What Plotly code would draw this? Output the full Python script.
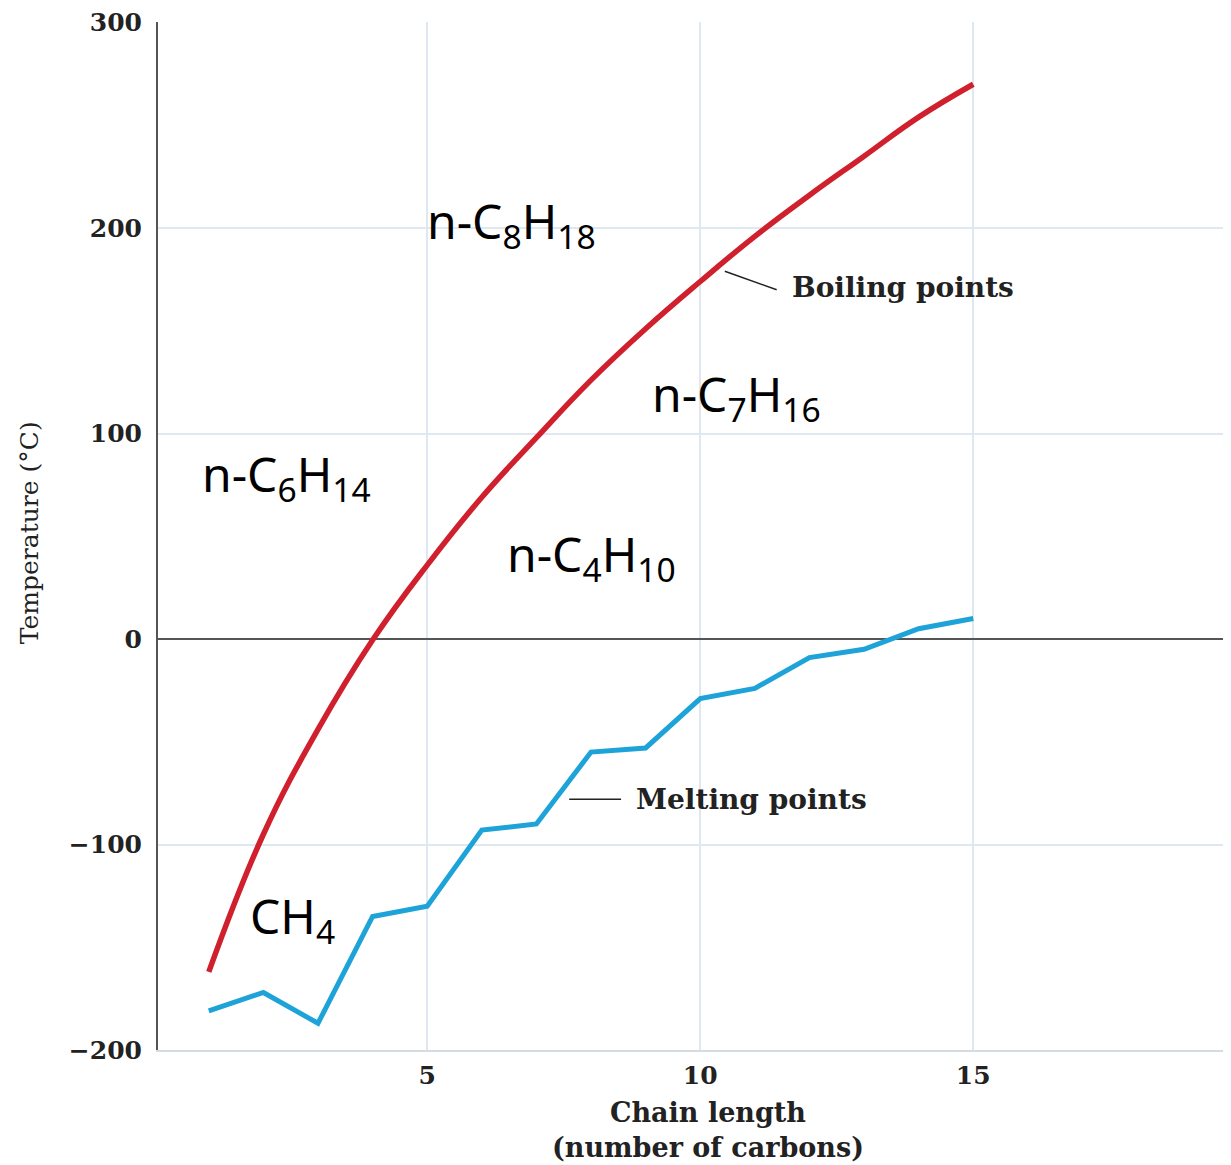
import plotly.graph_objects as go

# ---- data ----
carbons = list(range(1, 16))
boiling_points = [-162, -95, -44, -0.5, 36, 69, 98, 126, 151, 174, 196, 216, 235, 254, 270]
melting_points = [-181, -172, -187, -135, -130, -93, -90, -55, -53, -29, -24, -9, -5, 5, 10]
x_ticks = [5, 10, 15]
y_ticks = [-200, -100, 0, 100, 200, 300]

formula_labels = ["n-C<sub>8</sub>H<sub>18</sub>", "n-C<sub>7</sub>H<sub>16</sub>",
                  "n-C<sub>6</sub>H<sub>14</sub>", "n-C<sub>4</sub>H<sub>10</sub>",
                  "CH<sub>4</sub>"]
formula_x = [4.96, 9.08, 0.84, 6.43, 1.72]
formula_y = [202, 118, 79, 40, -136]

RED = "#d0202e"
BLUE = "#1ea3d8"
GRID = "#dfe8f0"
SERIF = "DejaVu Serif"
HAND = "Noto Sans"

fig = go.Figure()
fig.add_trace(go.Scatter(x=carbons, y=boiling_points, mode="lines",
                         line=dict(color=RED, width=5.5, shape="spline", smoothing=1.2),
                         hoverinfo="skip", showlegend=False))
fig.add_trace(go.Scatter(x=carbons, y=melting_points, mode="lines",
                         line=dict(color=BLUE, width=5),
                         hoverinfo="skip", showlegend=False))

annotations = []
for t, x, y in zip(formula_labels, formula_x, formula_y):
    annotations.append(dict(x=x, y=y, xref="x", yref="y", text=t, showarrow=False,
                            xanchor="left", yanchor="middle",
                            font=dict(family=HAND, size=48, color="black")))

# series labels with pointer lines
annotations.append(dict(x=11.64, y=171, xref="x", yref="y", text="Boiling points",
                        showarrow=False, xanchor="left", yanchor="middle",
                        font=dict(family=SERIF, size=28, color="#222", weight="bold")))
annotations.append(dict(x=8.79, y=-78, xref="x", yref="y", text="Melting points",
                        showarrow=False, xanchor="left", yanchor="middle",
                        font=dict(family=SERIF, size=28, color="#222", weight="bold")))

# axis titles
annotations.append(dict(x=0.5126, y=-0.078, xref="paper", yref="paper",
                        text="Chain length<br>(number of carbons)", showarrow=False,
                        xanchor="center", yanchor="middle", align="center",
                        font=dict(family=SERIF, size=27, color="#222", weight="bold")))
annotations.append(dict(x=-0.119, y=0.503, xref="paper", yref="paper",
                        text="Temperature (°C)", showarrow=False, textangle=-90,
                        xanchor="center", yanchor="middle",
                        font=dict(family=SERIF, size=25, color="#222")))

shapes = [
    dict(type="line", xref="x", yref="y", x0=10.45, y0=179, x1=11.4, y1=170,
         line=dict(color="#222", width=1.5)),
    dict(type="line", xref="x", yref="y", x0=7.6, y0=-78, x1=8.55, y1=-78,
         line=dict(color="#222", width=1.5)),
]

fig.update_layout(
    width=1223, height=1157,
    margin=dict(l=150, r=0, t=14, b=115),
    paper_bgcolor="white", plot_bgcolor="white",
    annotations=annotations, shapes=shapes,
    xaxis=dict(range=[0.07, 19.72], tickvals=x_ticks, showgrid=True, gridcolor=GRID,
               gridwidth=2, showline=True, linecolor="#d5dbe2", linewidth=2,
               zeroline=False, ticks="", ticklabelstandoff=2,
               tickfont=dict(family=SERIF, size=25, color="#222", weight="bold")),
    yaxis=dict(range=[-200, 300.3], tickvals=y_ticks, showgrid=True, gridcolor=GRID,
               gridwidth=2, showline=True, linecolor="#555", linewidth=2,
               zeroline=True, zerolinecolor="#555", zerolinewidth=2,
               ticks="", ticklabelstandoff=9,
               tickfont=dict(family=SERIF, size=25, color="#222", weight="bold")),
)

fig.write_html("out.html")
